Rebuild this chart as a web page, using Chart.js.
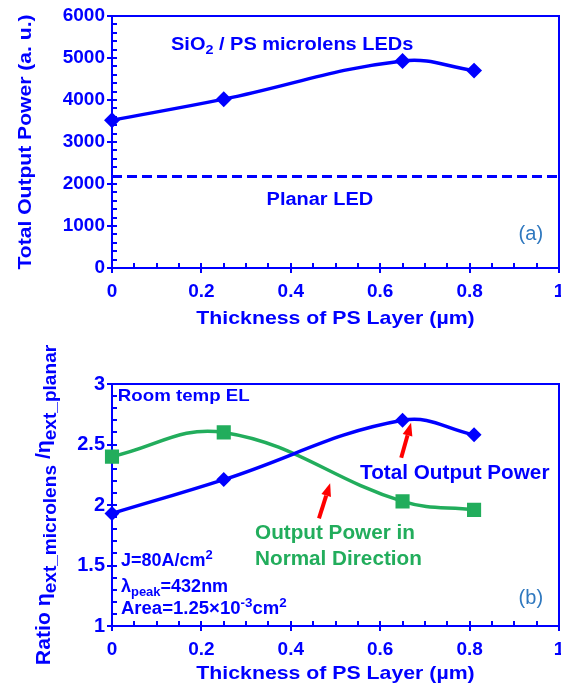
<!DOCTYPE html>
<html>
<head>
<meta charset="utf-8">
<script src="https://cdn.jsdelivr.net/npm/chart.js@4.4.1/dist/chart.umd.min.js"></script>
<style>
  body { margin: 0; background: #fff; overflow: hidden; }
  canvas { display: block; }
</style>
</head>
<body>
<canvas id="power" width="561" height="330"></canvas>
<canvas id="ratio" width="561" height="358"></canvas>
<script>
// values
const thickness = [0, 0.25, 0.65, 0.81];
const totalPower = [3520, 4020, 4930, 4700];
const planarX = [0, 1];
const planarPower = [2180, 2180];
const ratioTotal = [1.93, 2.21, 2.70, 2.58];
const ratioNormal = [2.40, 2.60, 2.03, 1.96];
const xTicks = [0, 0.2, 0.4, 0.6, 0.8, 1];
const powerTicks = [0, 1000, 2000, 3000, 4000, 5000, 6000];
const ratioTicks = [1, 1.5, 2, 2.5, 3];

const BLUE = '#0000ff';
const GREEN = '#22ad5c';
const RED = '#ff0000';
const TAG = '#2f78bf';
const FONT = '"Liberation Sans", Arial, sans-serif';

function pts(xs, ys) {
    return xs.map((x, i) => ({x: x, y: ys[i]}));
}

// text made of runs (subscripts, superscripts), k = horizontal stretch
function rich(ctx, x, y, segs, align, k) {
    k = k || 1;
    let w = 0;
    segs.forEach(s => {
        ctx.font = (s.w || 'bold') + ' ' + s.size + 'px ' + FONT;
        w += ctx.measureText(s.t).width;
    });
    ctx.save();
    ctx.translate(x, y);
    ctx.scale(k, 1);
    let cx = align === 'center' ? -w / 2 : 0;
    segs.forEach(s => {
        ctx.font = (s.w || 'bold') + ' ' + s.size + 'px ' + FONT;
        ctx.fillText(s.t, cx, s.dy || 0);
        cx += ctx.measureText(s.t).width;
    });
    ctx.restore();
}

function arrow(ctx, x0, y0, x1, y1) {
    const a = Math.atan2(y1 - y0, x1 - x0);
    const len = 13, half = 5;
    const bx = x1 - len * Math.cos(a), by = y1 - len * Math.sin(a);
    ctx.strokeStyle = RED;
    ctx.fillStyle = RED;
    ctx.lineWidth = 4;
    ctx.beginPath();
    ctx.moveTo(x0, y0);
    ctx.lineTo(bx, by);
    ctx.stroke();
    ctx.beginPath();
    ctx.moveTo(x1, y1);
    ctx.lineTo(bx + half * Math.sin(a), by - half * Math.cos(a));
    ctx.lineTo(bx - half * Math.sin(a), by + half * Math.cos(a));
    ctx.closePath();
    ctx.fill();
}

// the "1" at the right end is left blank by the scale and drawn here,
// on the same line as the other tick labels; it runs off the page
function lastTick(chart) {
    const {ctx, chartArea: a, scales: {x}} = chart;
    const items = x.getLabelItems ? x.getLabelItems() : [];
    ctx.save();
    ctx.fillStyle = BLUE;
    ctx.textAlign = 'center';
    ctx.font = 'bold 19px ' + FONT;
    if (items.length) {
        const it = items[0];
        ctx.textBaseline = it.options.textBaseline;
        ctx.fillText('1', x.getPixelForValue(1), it.options.translation[1] + it.textOffset);
    } else {
        ctx.textBaseline = 'middle';
        ctx.fillText('1', x.getPixelForValue(1), a.bottom + 23);
    }
    ctx.restore();
}

// box + crossing major ticks + inner minor ticks
function framePlugin(yMin, yStep, yCount, yMajorEvery) {
    return {
        id: 'frame',
        beforeDatasetsDraw(chart) {
            const {ctx, chartArea: a, scales: {x, y}} = chart;
            ctx.save();
            ctx.strokeStyle = BLUE;
            ctx.lineWidth = 2;
            ctx.strokeRect(a.left, a.top, a.right - a.left, a.bottom - a.top);
            ctx.beginPath();
            for (let i = 0; i <= 20; i++) {
                const px = Math.round(x.getPixelForValue(i * 0.05));
                const major = i % 4 === 0;
                ctx.moveTo(px, a.bottom + (major ? 5 : 0));
                ctx.lineTo(px, a.bottom - 5);
            }
            for (let i = 0; i <= yCount; i++) {
                const py = Math.round(y.getPixelForValue(yMin + i * yStep));
                const major = i % yMajorEvery === 0;
                ctx.moveTo(a.left - (major ? 5 : 0), py);
                ctx.lineTo(a.left + 5, py);
            }
            ctx.stroke();
            ctx.restore();
            lastTick(chart);
        }
    };
}

const topNotes = {
    id: 'topNotes',
    afterDatasetsDraw(chart) {
        const {ctx, chartArea: a, scales: {x, y}} = chart;
        ctx.save();
        ctx.fillStyle = BLUE;
        ctx.textBaseline = 'alphabetic';
        rich(ctx, x.getPixelForValue(0.132), y.getPixelForValue(5200), [
            {t: 'SiO', size: 18}, {t: '2', size: 13, dy: 4}, {t: ' / PS microlens LEDs', size: 18}
        ], 'left', 1.11);
        rich(ctx, x.getPixelForValue(0.465), y.getPixelForValue(1510), [
            {t: 'Planar LED', size: 18}
        ], 'center', 1.11);
        ctx.textBaseline = 'middle';
        ctx.fillStyle = TAG;
        rich(ctx, x.getPixelForValue(0.937), y.getPixelForValue(790), [
            {t: '(a)', size: 20, w: 'normal'}
        ], 'center');
        ctx.fillStyle = BLUE;
        rich(ctx, (a.left + a.right) / 2, a.bottom + 51, [
            {t: 'Thickness of PS Layer (\u00b5m)', size: 19}
        ], 'center', 1.12);
        ctx.translate(a.left - 86, (a.top + a.bottom) / 2);
        ctx.rotate(-Math.PI / 2);
        rich(ctx, 0, 0, [{t: 'Total Output Power (a. u.)', size: 19}], 'center', 1.11);
        ctx.restore();
    }
};

const bottomNotes = {
    id: 'bottomNotes',
    afterDatasetsDraw(chart) {
        const {ctx, chartArea: a, scales: {x, y}} = chart;
        ctx.save();
        ctx.textBaseline = 'alphabetic';
        ctx.fillStyle = BLUE;
        rich(ctx, x.getPixelForValue(0.013), y.getPixelForValue(2.86), [
            {t: 'Room temp EL', size: 17}
        ], 'left', 1.1);
        rich(ctx, x.getPixelForValue(0.555), y.getPixelForValue(2.215), [
            {t: 'Total Output Power', size: 20}
        ], 'left', 1.035);
        rich(ctx, x.getPixelForValue(0.02), y.getPixelForValue(1.492), [
            {t: 'J=80A/cm', size: 18}, {t: '2', size: 13, dy: -7}
        ], 'left');
        rich(ctx, x.getPixelForValue(0.02), y.getPixelForValue(1.285), [
            {t: '\u03bb', size: 18}, {t: 'peak', size: 13, dy: 4}, {t: '=432nm', size: 18}
        ], 'left');
        rich(ctx, x.getPixelForValue(0.02), y.getPixelForValue(1.103), [
            {t: 'Area=1.25\u00d710', size: 18}, {t: '-3', size: 13, dy: -7},
            {t: 'cm', size: 18}, {t: '2', size: 13, dy: -7}
        ], 'left', 1.03);
        ctx.fillStyle = GREEN;
        rich(ctx, x.getPixelForValue(0.32), y.getPixelForValue(1.719), [
            {t: 'Output Power in', size: 20}
        ], 'left', 1.035);
        rich(ctx, x.getPixelForValue(0.32), y.getPixelForValue(1.504), [
            {t: 'Normal Direction', size: 20}
        ], 'left', 1.035);
        ctx.textBaseline = 'middle';
        ctx.fillStyle = TAG;
        rich(ctx, x.getPixelForValue(0.937), y.getPixelForValue(1.231), [
            {t: '(b)', size: 20, w: 'normal'}
        ], 'center');
        ctx.fillStyle = BLUE;
        rich(ctx, (a.left + a.right) / 2, a.bottom + 48, [
            {t: 'Thickness of PS Layer (\u00b5m)', size: 19}
        ], 'center', 1.12);

        arrow(ctx, x.getPixelForValue(0.647), y.getPixelForValue(2.39),
            x.getPixelForValue(0.669), y.getPixelForValue(2.68));
        arrow(ctx, x.getPixelForValue(0.463), y.getPixelForValue(1.89),
            x.getPixelForValue(0.488), y.getPixelForValue(2.18));

        ctx.fillStyle = BLUE;
        ctx.textBaseline = 'alphabetic';
        ctx.translate(a.left - 62, (a.top + a.bottom) / 2);
        ctx.rotate(-Math.PI / 2);
        rich(ctx, 0, 0, [
            {t: 'Ratio \u03b7', size: 20}, {t: 'ext_microlens', size: 18, dy: 6},
            {t: ' /\u03b7', size: 20}, {t: 'ext_planar', size: 18, dy: 6}
        ], 'center', 1.06);
        ctx.restore();
    }
};

function xScale() {
    return {
        type: 'linear',
        min: 0,
        max: 1,
        grid: {display: false, drawTicks: false},
        border: {display: false},
        ticks: {
            color: BLUE,
            font: {family: FONT, size: 19, weight: 'bold'},
            padding: 12,
            maxRotation: 0,
            autoSkip: false,
            callback: v => (v === 1 ? '' : String(v))
        },
        afterBuildTicks: s => { s.ticks = xTicks.map(v => ({value: v})); },
        afterFit: s => { s.height = 62; s.paddingLeft = 0; s.paddingRight = 0; }
    };
}

function yScale(min, max, list, size) {
    return {
        type: 'linear',
        min: min,
        max: max,
        grid: {display: false, drawTicks: false},
        border: {display: false},
        ticks: {
            color: BLUE,
            font: {family: FONT, size: size, weight: 'bold'},
            padding: 7,
            autoSkip: false,
            callback: v => String(v)
        },
        afterBuildTicks: s => { s.ticks = list.map(v => ({value: v})); },
        afterFit: s => { s.width = 112; s.paddingTop = 0; s.paddingBottom = 0; }
    };
}

new Chart(document.getElementById('power'), {
    type: 'scatter',
    data: {
        datasets: [
            {
                label: 'SiO2 / PS microlens LEDs',
                data: pts(thickness, totalPower),
                showLine: true,
                tension: 0.4,
                borderColor: BLUE,
                backgroundColor: BLUE,
                borderWidth: 3.5,
                pointStyle: 'rectRot',
                pointRadius: 5.5,
                clip: false
            },
            {
                label: 'Planar LED',
                data: pts(planarX, planarPower),
                showLine: true,
                borderColor: BLUE,
                borderWidth: 3,
                borderDash: [10, 5],
                pointRadius: 0
            }
        ]
    },
    options: {
        responsive: false,
        animation: false,
        devicePixelRatio: 1,
        layout: {autoPadding: false, padding: {left: 0, right: 2, top: 16, bottom: 0}},
        scales: {
            x: xScale(),
            y: yScale(0, 6000, powerTicks, 19)
        },
        plugins: {
            legend: {display: false},
            tooltip: {enabled: false}
        }
    },
    plugins: [framePlugin(0, 200, 30, 5), topNotes]
});

new Chart(document.getElementById('ratio'), {
    type: 'scatter',
    data: {
        datasets: [
            {
                label: 'Total Output Power',
                data: pts(thickness, ratioTotal),
                showLine: true,
                tension: 0.4,
                borderColor: BLUE,
                backgroundColor: BLUE,
                borderWidth: 3.5,
                pointStyle: 'rectRot',
                pointRadius: 5,
                clip: false
            },
            {
                label: 'Output Power in Normal Direction',
                data: pts(thickness, ratioNormal),
                showLine: true,
                tension: 0.4,
                borderColor: GREEN,
                backgroundColor: GREEN,
                borderWidth: 3.5,
                pointStyle: 'rect',
                pointRadius: 7.5,
                clip: false
            }
        ]
    },
    options: {
        responsive: false,
        animation: false,
        devicePixelRatio: 1,
        layout: {autoPadding: false, padding: {left: 0, right: 2, top: 54, bottom: 0}},
        scales: {
            x: xScale(),
            y: yScale(1, 3, ratioTicks, 20)
        },
        plugins: {
            legend: {display: false},
            tooltip: {enabled: false}
        }
    },
    plugins: [framePlugin(1, 0.1, 20, 5), bottomNotes]
});
</script>
</body>
</html>
